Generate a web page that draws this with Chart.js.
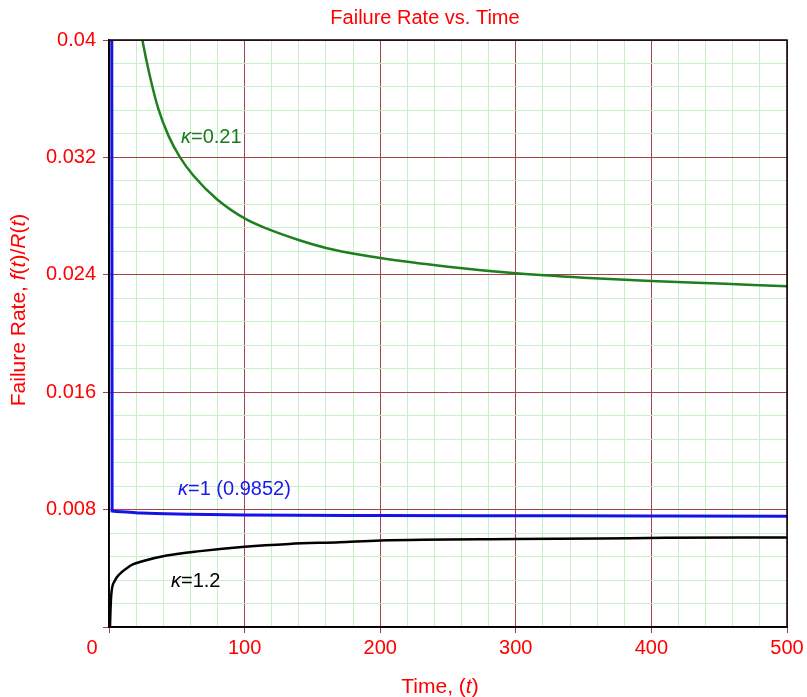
<!DOCTYPE html>
<html>
<head>
<meta charset="utf-8">
<script src="https://cdn.jsdelivr.net/npm/chart.js@4"></script>
<style>
  html, body { margin: 0; padding: 0; background: #fff; }
  #wrap { width: 807px; height: 697px; }
</style>
</head>
<body>
<div id="wrap"><canvas id="rateChart" width="807" height="697"></canvas></div>
<script>
// values
const greenT = [22, 24.6, 30, 36.4, 44, 52.4, 62.2, 79.6, 100, 116, 141, 165, 200, 250, 300, 350, 400, 450, 500];
const greenV = [0.0414, 0.0400, 0.0376, 0.0353, 0.03345, 0.0320, 0.03077, 0.02915, 0.02784, 0.02716, 0.02634, 0.02572, 0.02514, 0.02455, 0.0241, 0.0238, 0.02358, 0.0234, 0.02322];

const blueT = [2.0, 2.3, 9.5, 24, 60, 100, 200, 300, 400, 500];
const blueV = [0.05, 0.0079, 0.00786, 0.00776, 0.00769, 0.00764, 0.0076, 0.00758, 0.00756, 0.00755];

const blackT = [0.7, 1.4, 2.0, 4.4, 8.1, 13.1, 17.9, 25.3, 42.6, 67.1, 100, 133, 170, 200, 300, 362, 410, 500];
const blackV = [0, 0.00181, 0.00249, 0.00317, 0.00363, 0.00401, 0.00428, 0.0045, 0.00487, 0.00517, 0.00547, 0.00566, 0.00578, 0.0059, 0.006, 0.00603, 0.00608, 0.0061];

const xTickLabels = ['0', '100', '200', '300', '400', '500'];
const yTickLabels = ['0.008', '0.016', '0.024', '0.032', '0.04'];
const xMajor = 100, xMinor = 20;
const yMajor = 0.008, yMinor = 0.0016;

const RED = '#ff0000';
const MAJOR_GRID = '#a8404c';
const MINOR_GRID = '#c8f0c8';

function pts(ts, vs) {
  return ts.map((t, i) => ({ x: t, y: vs[i] }));
}

function stepTicks(max, step) {
  const out = [];
  for (let i = 0; i * step <= max + 1e-9; i++) out.push({ value: +(i * step).toFixed(6) });
  return out;
}

function isMajor(v, step) {
  return Math.abs(v / step - Math.round(v / step)) < 1e-6;
}

// draw text made of plain / italic pieces
function drawRuns(ctx, runs, x, y, size, color, align) {
  ctx.save();
  ctx.fillStyle = color;
  ctx.textBaseline = 'alphabetic';
  ctx.textAlign = 'left';
  let total = 0;
  runs.forEach(r => {
    ctx.font = (r[1] ? 'italic ' : '') + size + 'px "Liberation Sans", Arial, sans-serif';
    total += ctx.measureText(r[0]).width;
  });
  let cx = align === 'center' ? x - total / 2 : x;
  runs.forEach(r => {
    ctx.font = (r[1] ? 'italic ' : '') + size + 'px "Liberation Sans", Arial, sans-serif';
    ctx.fillText(r[0], cx, y);
    cx += ctx.measureText(r[0]).width;
  });
  ctx.restore();
}

const textPlugin = {
  id: 'textPlugin',
  afterDraw(chart) {
    const ctx = chart.ctx;
    const a = chart.chartArea;
    const xs = chart.scales.x, ys = chart.scales.y;

    // frame
    ctx.save();
    ctx.strokeStyle = '#000';
    ctx.lineWidth = 1.5;
    ctx.strokeRect(a.left, a.top, a.right - a.left, a.bottom - a.top);
    ctx.restore();

    // tick labels
    ctx.save();
    ctx.fillStyle = RED;
    ctx.font = '20px "Liberation Sans", Arial, sans-serif';
    ctx.textBaseline = 'middle';
    ctx.textAlign = 'right';
    yTickLabels.forEach(l => {
      ctx.fillText(l, 96, ys.getPixelForValue(parseFloat(l)));
    });
    ctx.textAlign = 'center';
    xTickLabels.forEach(l => {
      const v = parseFloat(l);
      const px = v === 0 ? 92 : xs.getPixelForValue(v);
      ctx.fillText(l, px, 648);
    });
    ctx.restore();

    // titles
    drawRuns(ctx, [['Failure Rate vs. Time', false]], 425, 24, 20, RED, 'center');
    drawRuns(ctx, [['Time, (', false], ['t', true], [')', false]], 440, 693, 21, RED, 'center');

    ctx.save();
    ctx.translate(25, 310);
    ctx.rotate(-Math.PI / 2);
    drawRuns(ctx, [['Failure Rate, ', false], ['f', true], ['(', false], ['t', true], [')/', false],
      ['R', true], ['(', false], ['t', true], [')', false]], 0, 0, 21, RED, 'center');
    ctx.restore();

    // curve labels
    drawRuns(ctx, [['\u03ba', true], ['=0.21', false]], 181, 143, 20, '#1c7a1c', 'left');
    drawRuns(ctx, [['\u03ba', true], ['=1 (0.9852)', false]], 178, 495, 20, '#1a1aee', 'left');
    drawRuns(ctx, [['\u03ba', true], ['=1.2', false]], 171, 587, 20, '#000', 'left');
  }
};

const ctx = document.getElementById('rateChart').getContext('2d');

new Chart(ctx, {
  type: 'line',
  data: {
    datasets: [
      {
        label: 'k=0.21',
        data: pts(greenT, greenV),
        borderColor: '#1f7f1f',
        borderWidth: 2.5,
        cubicInterpolationMode: 'monotone',
        pointRadius: 0,
        clip: 0,
      },
      {
        label: 'k=1',
        data: pts(blueT, blueV),
        borderColor: '#1414e6',
        borderWidth: 3,
        cubicInterpolationMode: 'monotone',
        pointRadius: 0,
        clip: 0,
      },
      {
        label: 'k=1.2',
        data: pts(blackT, blackV),
        borderColor: '#000',
        borderWidth: 2.5,
        cubicInterpolationMode: 'monotone',
        pointRadius: 0,
        clip: 0,
      },
    ],
  },
  options: {
    responsive: false,
    animation: false,
    layout: { padding: { left: 103, right: 20, top: 40, bottom: 64 } },
    plugins: {
      legend: { display: false },
      tooltip: { enabled: false },
    },
    scales: {
      x: {
        type: 'linear',
        min: 0,
        max: 500,
        afterBuildTicks: s => { s.ticks = stepTicks(500, xMinor); },
        ticks: { display: false },
        grid: {
          color: c => isMajor(c.tick.value, xMajor) ? MAJOR_GRID : MINOR_GRID,
          tickColor: c => isMajor(c.tick.value, xMajor) ? MAJOR_GRID : 'rgba(0,0,0,0)',
          tickLength: 6,
          lineWidth: 1,
        },
        border: { color: '#000', width: 1.5 },
      },
      y: {
        type: 'linear',
        min: 0,
        max: 0.04,
        afterBuildTicks: s => { s.ticks = stepTicks(0.04, yMinor); },
        ticks: { display: false },
        grid: {
          color: c => isMajor(c.tick.value, yMajor) ? MAJOR_GRID : MINOR_GRID,
          tickColor: c => isMajor(c.tick.value, yMajor) ? MAJOR_GRID : 'rgba(0,0,0,0)',
          tickLength: 6,
          lineWidth: 1,
        },
        border: { color: '#000', width: 1.5 },
      },
    },
  },
  plugins: [textPlugin],
});
</script>
</body>
</html>
